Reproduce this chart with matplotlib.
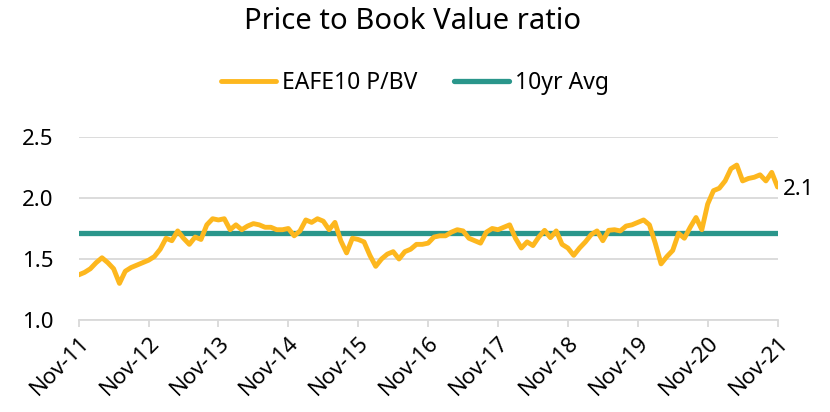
import matplotlib
matplotlib.use("Agg")
import matplotlib.pyplot as plt

plt.rcParams['font.family'] = ['Noto Sans', 'DejaVu Sans']

# monthly P/BV, Nov-11 .. Nov-21
pbv = [1.37, 1.39, 1.42, 1.47, 1.51, 1.47, 1.42, 1.30, 1.40, 1.43,
       1.45, 1.47, 1.49, 1.52, 1.58, 1.67, 1.65, 1.73, 1.67, 1.62,
       1.68, 1.66, 1.78, 1.83, 1.82, 1.83, 1.74, 1.78, 1.74, 1.77,
       1.79, 1.78, 1.76, 1.76, 1.74, 1.74, 1.75, 1.69, 1.73, 1.82,
       1.80, 1.83, 1.81, 1.74, 1.80, 1.65, 1.55, 1.67, 1.66, 1.64,
       1.53, 1.44, 1.50, 1.54, 1.56, 1.50, 1.56, 1.58, 1.62, 1.62,
       1.63, 1.68, 1.69, 1.69, 1.72, 1.74, 1.73, 1.67, 1.65, 1.63,
       1.72, 1.75, 1.74, 1.76, 1.78, 1.67, 1.59, 1.64, 1.61, 1.68,
       1.735, 1.675, 1.73, 1.62, 1.59, 1.53, 1.59, 1.64, 1.70, 1.73,
       1.65, 1.735, 1.74, 1.73, 1.77, 1.78, 1.80, 1.82, 1.78, 1.63,
       1.46, 1.52, 1.57, 1.71, 1.67, 1.76, 1.84, 1.74, 1.95, 2.06,
       2.08, 2.14, 2.24, 2.27, 2.14, 2.16, 2.17, 2.19, 2.14, 2.21,
       2.09]
avg_10yr = 1.71
tick_labels = ["Nov-11", "Nov-12", "Nov-13", "Nov-14", "Nov-15", "Nov-16",
               "Nov-17", "Nov-18", "Nov-19", "Nov-20", "Nov-21"]
last_label = "2.1"

orange = "#FDB71E"
teal = "#2A968B"

fig = plt.figure(figsize=(8.3, 4.12), dpi=100)
ax = fig.add_axes([0.0948, 0.2233, 0.842, 0.4442])

months = list(range(len(pbv)))
ax.plot(months, pbv, color=orange, lw=3.5, label="EAFE10 P/BV", solid_capstyle="round", zorder=3)
ax.plot(months, [avg_10yr] * len(pbv), color=teal, lw=3.8, label="10yr Avg", solid_capstyle="round", zorder=2)

ax.set_xlim(0, len(pbv) - 1)
ax.set_ylim(1.0, 2.5)
ax.set_yticks([1.0, 1.5, 2.0, 2.5])
ax.set_yticklabels(["1.0", "1.5", "2.0", "2.5"])
ax.set_xticks(range(0, len(pbv), 12))
ax.set_xticklabels(tick_labels, rotation=45, ha="right", rotation_mode="anchor")

ax.grid(axis="y", color="#D9D9D9", lw=1.3)
ax.set_axisbelow(True)
for s in ["left", "right", "top"]:
    ax.spines[s].set_visible(False)
ax.spines["bottom"].set_color("#D9D9D9")
ax.spines["bottom"].set_linewidth(1.3)
ax.tick_params(axis="x", colors="#D9D9D9", length=5, width=1.3, labelcolor="black", labelsize=16, pad=4)
ax.tick_params(axis="y", length=0, labelsize=16, pad=18)

ax.annotate(last_label, (months[-1], pbv[-1]), xytext=(4, -2), textcoords="offset points",
            fontsize=16, va="center", ha="left")

fig.text(0.497, 0.947, "Price to Book Value ratio", ha="center", va="center", fontsize=21)
fig.legend(loc="center", bbox_to_anchor=(0.5, 0.798), ncol=2, frameon=False,
           fontsize=16.5, handlelength=2.4, handletextpad=0.25, columnspacing=1.6)

fig.savefig("out.png", dpi=100)
